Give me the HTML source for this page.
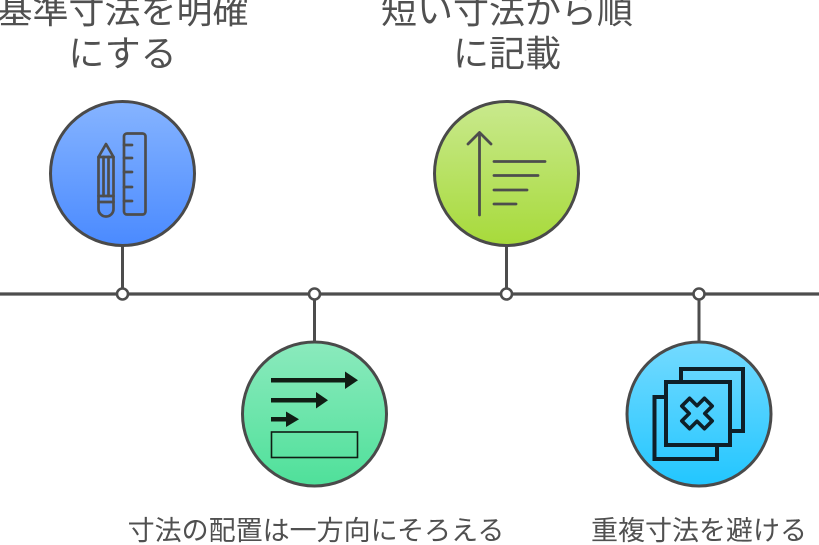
<!DOCTYPE html>
<html><head><meta charset="utf-8"><style>
html,body{margin:0;padding:0;background:#fff;}
svg{display:block;}
text{font-family:"Liberation Sans","Noto Sans CJK JP",sans-serif;fill:#505050;}
</style></head><body>
<svg width="819" height="545" viewBox="0 0 819 545" xmlns="http://www.w3.org/2000/svg">
<defs>
<linearGradient id="g1" x1="0" y1="101" x2="0" y2="246" gradientUnits="userSpaceOnUse"><stop offset="0" stop-color="#86b4ff"/><stop offset="1" stop-color="#4a8aff"/></linearGradient>
<linearGradient id="g2" x1="0" y1="101" x2="0" y2="246" gradientUnits="userSpaceOnUse"><stop offset="0" stop-color="#c9e98e"/><stop offset="1" stop-color="#a7da3a"/></linearGradient>
<linearGradient id="g3" x1="0" y1="342" x2="0" y2="486" gradientUnits="userSpaceOnUse"><stop offset="0" stop-color="#8beabd"/><stop offset="1" stop-color="#4fe09a"/></linearGradient>
<linearGradient id="g4" x1="0" y1="342" x2="0" y2="486" gradientUnits="userSpaceOnUse"><stop offset="0" stop-color="#74daff"/><stop offset="1" stop-color="#22c6ff"/></linearGradient>
</defs>

<!-- timeline -->
<line x1="0" y1="294" x2="819" y2="294" stroke="#4d4d4d" stroke-width="3.3"/>
<g stroke="#4d4d4d" stroke-width="3">
<line x1="122.5" y1="246" x2="122.5" y2="289"/>
<line x1="506.5" y1="246" x2="506.5" y2="289"/>
<line x1="314.5" y1="299" x2="314.5" y2="342"/>
<line x1="699" y1="299" x2="699" y2="342"/>
</g>
<g fill="#fff" stroke="#4d4d4d" stroke-width="2.6">
<circle cx="122.5" cy="294" r="5.5"/>
<circle cx="314.5" cy="294" r="5.5"/>
<circle cx="506.5" cy="294" r="5.5"/>
<circle cx="699" cy="294" r="5.5"/>
</g>

<!-- circles -->
<g stroke="#4a4a4a" stroke-width="3">
<circle cx="122.5" cy="173.5" r="72" fill="url(#g1)"/>
<circle cx="506.5" cy="173.5" r="72" fill="url(#g2)"/>
<circle cx="314.5" cy="414" r="72" fill="url(#g3)"/>
<circle cx="699" cy="414" r="72" fill="url(#g4)"/>
</g>

<!-- icon 1: pencil & ruler -->
<g fill="none" stroke="#4d4d4d" stroke-width="2.7" stroke-linejoin="round" stroke-linecap="round">
<path d="M98.5 157 L106 144 L113.5 157 L113.5 209 A7.5 7.5 0 0 1 98.5 209 Z"/>
<line x1="98.5" y1="157" x2="113.5" y2="157"/>
<line x1="103.5" y1="157" x2="103.5" y2="196"/>
<line x1="108.5" y1="157" x2="108.5" y2="196"/>
<line x1="98.5" y1="196" x2="113.5" y2="196"/>
<line x1="98.5" y1="202" x2="113.5" y2="202"/>
<rect x="124" y="133.5" width="21.5" height="81" rx="3"/>
<line x1="124" y1="145" x2="132" y2="145"/>
<line x1="124" y1="158" x2="132" y2="158"/>
<line x1="124" y1="172" x2="132" y2="172"/>
<line x1="124" y1="187" x2="132" y2="187"/>
<line x1="124" y1="201" x2="132" y2="201"/>
</g>

<!-- icon 2: arrow up & lines -->
<g fill="none" stroke="#4d4d4d" stroke-width="2.8" stroke-linecap="round" stroke-linejoin="round">
<line x1="479.5" y1="133" x2="479.5" y2="215"/>
<polyline points="468,144 479.5,132.5 491,144"/>
<line x1="494" y1="161.5" x2="545" y2="161.5"/>
<line x1="494" y1="175.5" x2="538" y2="175.5"/>
<line x1="494" y1="190" x2="527" y2="190"/>
<line x1="494" y1="204" x2="516" y2="204"/>
</g>

<!-- icon 3: arrows & rect -->
<g fill="#101d14">
<rect x="271" y="378" width="77" height="4.5"/>
<polygon points="345,371.5 358,380.2 345,389"/>
<rect x="271" y="398" width="47" height="4.5"/>
<polygon points="316,392 328,400.2 316,408.5"/>
<rect x="271" y="417" width="17" height="4.5"/>
<polygon points="286,411.5 299,419.2 286,427"/>
</g>
<rect x="271.5" y="432" width="86" height="25.5" fill="none" stroke="#101d14" stroke-width="1.6"/>

<!-- icon 4: overlapping squares with X -->
<g fill="none" stroke="#0e1f28" stroke-width="4" stroke-linejoin="miter">
<rect x="681" y="369" width="62" height="62"/>
<rect x="654.5" y="397" width="62.5" height="62"/>
<rect x="666" y="382" width="64" height="63" fill="url(#g4)"/>
<path transform="translate(697,413.5) rotate(45)" d="M-5.5 -16 L5.5 -16 L5.5 -5.5 L16 -5.5 L16 5.5 L5.5 5.5 L5.5 16 L-5.5 16 L-5.5 5.5 L-16 5.5 L-16 -5.5 L-5.5 -5.5 Z" stroke-width="3.6" stroke-linejoin="round"/>
</g>

<!-- labels -->
<g font-size="36" text-anchor="middle">
<text x="122.5" y="23">基準寸法を明確</text>
<text x="122.5" y="66">にする</text>
<text x="507" y="23">短い寸法から順</text>
<text x="507" y="66">に記載</text>
</g>
<g font-size="27" text-anchor="middle">
<text x="316" y="540">寸法の配置は一方向にそろえる</text>
<text x="699" y="540">重複寸法を避ける</text>
</g>
</svg>
</body></html>
